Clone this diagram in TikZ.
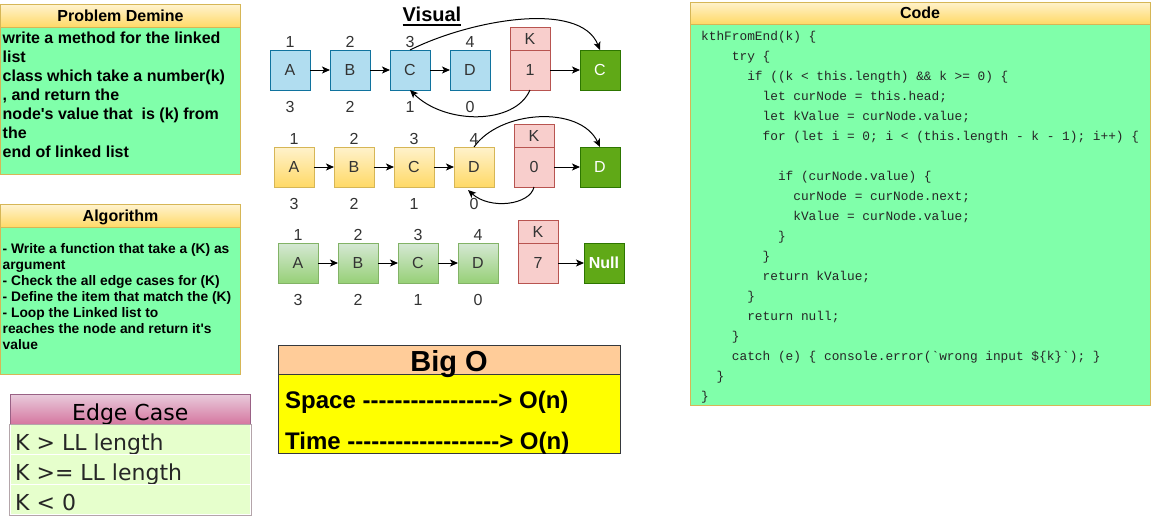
\documentclass[tikz,border=0pt]{standalone}
\usepackage{fontspec}
\setmainfont{Liberation Sans}[Ligatures=TeXOff]
\newfontfamily\codefont{Liberation Mono}[Ligatures=TeXOff]
\newfontfamily\edgefont{DejaVu Sans}[Ligatures=TeXOff]
\usetikzlibrary{arrows.meta,positioning}
\definecolor{hdrtop}{HTML}{FFF2CC}
\definecolor{hdrbot}{HTML}{FFD966}
\definecolor{hdrline}{HTML}{D6B656}
\definecolor{panelgreen}{HTML}{80FFAA}
\definecolor{bluefill}{HTML}{B1DDF0}
\definecolor{blueline}{HTML}{10739E}
\definecolor{grntop}{HTML}{D5E8D4}
\definecolor{grnbot}{HTML}{97D077}
\definecolor{grnline}{HTML}{82B366}
\definecolor{kfill}{HTML}{F8CECC}
\definecolor{kline}{HTML}{B85450}
\definecolor{foundfill}{HTML}{60A917}
\definecolor{foundline}{HTML}{2D7600}
\definecolor{edgetop}{HTML}{E8CADB}
\definecolor{edgebot}{HTML}{D5769F}
\definecolor{edgeline}{HTML}{996185}
\definecolor{edgerow}{HTML}{E6FFCC}
\definecolor{edgeframe}{HTML}{B4A5AA}
\definecolor{bigohead}{HTML}{FFCC99}
\definecolor{bigobody}{HTML}{FFFF00}
\definecolor{bigoline}{HTML}{36393D}
\tikzset{
  % panels with a shaded title bar
  hdr/.style={draw=hdrline, top color=hdrtop, bottom color=hdrbot, line width=1pt,
              inner sep=0pt, text height=11.5pt, text depth=0pt,
              font=\bfseries\fontsize{16}{19}\selectfont},
  panel/.style={draw=hdrline, fill=panelgreen, line width=1pt, inner sep=0pt},
  ptext/.style={anchor=base west, inner sep=0pt, font=\bfseries\fontsize{16}{19}\selectfont},
  atext/.style={ptext, font=\bfseries\fontsize{13.8}{16}\selectfont},
  ctext/.style={anchor=base west, inner sep=0pt, font=\codefont\fontsize{12.8}{20}\selectfont, text=black!85},
  % linked list cells
  llbox/.style={draw, line width=1pt, minimum size=40pt, inner sep=0pt, outer sep=0pt,
                font=\fontsize{16}{19}\selectfont, text=black!80},
  bluebox/.style={llbox, draw=blueline, fill=bluefill},
  yelbox/.style={llbox, draw=hdrline, top color=hdrtop, bottom color=hdrbot},
  grnbox/.style={llbox, draw=grnline, top color=grntop, bottom color=grnbot},
  kval/.style={llbox, draw=kline, fill=kfill},
  khead/.style={kval, minimum height=23pt},
  found/.style={llbox, draw=foundline, fill=foundfill, text=white},
  idx/.style={inner sep=0pt, font=\fontsize{16}{19}\selectfont, text=black!80},
  link/.style={-{Stealth[length=8pt,width=7pt,inset=2pt]}, line width=1pt},
  % edge cases
  edgehead/.style={draw=edgeline, top color=edgetop, bottom color=edgebot, line width=1pt,
                   inner sep=0pt, minimum width=240.5pt, minimum height=30pt,
                   text height=22pt, text depth=0pt, font=\edgefont\fontsize{22}{27}\selectfont},
  edgecell/.style={draw=white, fill=edgerow, line width=1pt, minimum width=240.5pt, minimum height=30pt},
  etext/.style={anchor=base west, inner sep=0pt, font=\edgefont\fontsize{22}{27}\selectfont, text=black!85},
  % big O
  otext/.style={anchor=base west, inner sep=0pt, font=\bfseries\fontsize{24}{28}\selectfont}
}

\begin{document}
\begin{tikzpicture}[x=1pt, y=-1pt]
\useasboundingbox (0,0) rectangle (1151,515);

% ============== Problem ==============
\node[panel, minimum width=240pt, minimum height=146.7pt] (probbody) at (120.5,100.65) {};
\node[hdr, minimum width=240pt, minimum height=22.6pt] (probhead) at (120.5,16) {Problem Demine};
\foreach \txt [count=\i from 0] in {{write a method for the linked}, {list},
    {class which take a number(k)}, {, and return the}, {node's value that \ is (k) from},
    {the}, {end of linked list}}
  \node[ptext] (prob\i) at (2.5,{43.5+19*\i}) {\txt};

% ============== Algorithm ==============
\node[panel, minimum width=240pt, minimum height=146.7pt] (algbody) at (120.5,300.65) {};
\node[hdr, minimum width=240pt, minimum height=22.6pt] (alghead) at (120.5,216) {Algorithm};
\foreach \txt [count=\i from 0] in {{- Write a function that take a (K) as}, {argument},
    {- Check the all edge cases for (K)}, {- Define the item that match the (K)},
    {- Loop the Linked list to}, {reaches the node and return it's}, {value}}
  \node[atext] (alg\i) at (2.5,{253.3+16*\i}) {\txt};

% ============== Edge Case ==============
\node[edgehead] (edgehead) at (130.25,409.5) {Edge Case};
\foreach \txt [count=\i] in {{K > LL length}, {K >= LL length}, {K < 0}} {
  \node[edgecell] (edge\i) at (130.25,{409.5+30*\i}) {};
  \node[etext] (edgetxt\i) at (15,{420.5+30*\i}) {\txt};
}
\draw[edgeframe, line width=1pt] (edge1.north west) rectangle (edge3.south east);

% ============== Visual ==============
\node[anchor=base, inner sep=0pt, font=\bfseries\fontsize{20}{24}\selectfont] (vistitle) at (432,21.7) {Visual};
\draw[line width=1.6pt] ([yshift=-3.5pt]vistitle.base west) -- ([yshift=-3.5pt]vistitle.base east);

% row 1: k = 1
\foreach \n/\t/\b [count=\i from 0] in {A/1/3, B/2/2, C/3/1, D/4/0} {
  \node[bluebox] (ra\n) at ({290+60*\i},70) {\n};
  \node[idx, above=2.5pt of ra\n] (ra\n-up) {\t};
  \node[idx, below=11pt of ra\n] (ra\n-dn) {\b};
}
\node[kval, right=20pt of raD] (raK) {1};
\node[khead, above=0pt of raK] (raKh) {K};
\node[found, right=30pt of raK] (raRes) {C};
\foreach \s/\e in {A/B, B/C, C/D, K/Res}
  \draw[link] (ra\s) -- (ra\e);
\draw[link] (raC.north) .. controls (470,20) and (580,0) .. (raRes.north);
\draw[link] (raK.south) .. controls (515,125) and (445,125) .. (raC.south);

% row 2: k = 0
\foreach \n/\t/\b [count=\i from 0] in {A/1/3, B/2/2, C/3/1, D/4/0} {
  \node[yelbox] (rb\n) at ({294+60*\i},167) {\n};
  \node[idx, above=2.5pt of rb\n] (rb\n-up) {\t};
  \node[idx, below=11pt of rb\n] (rb\n-dn) {\b};
}
\node[kval, right=20pt of rbD] (rbK) {0};
\node[khead, above=0pt of rbK] (rbKh) {K};
\node[found, right=26pt of rbK] (rbRes) {D};
\foreach \s/\e in {A/B, B/C, C/D, K/Res}
  \draw[link] (rb\s) -- (rb\e);
\draw[link] (rbD.north) .. controls (500,110) and (580,105) .. (rbRes.north);
\draw[link] (rbK.south) .. controls (530,205) and (490,210) .. ([xshift=-6pt,yshift=-3pt]rbD.south);

% row 3: k = 7
\foreach \n/\t/\b [count=\i from 0] in {A/1/3, B/2/2, C/3/1, D/4/0} {
  \node[grnbox] (rc\n) at ({298+60*\i},263) {\n};
  \node[idx, above=2.5pt of rc\n] (rc\n-up) {\t};
  \node[idx, below=11pt of rc\n] (rc\n-dn) {\b};
}
\node[kval, right=20pt of rcD] (rcK) {7};
\node[khead, above=0pt of rcK] (rcKh) {K};
\node[found, right=26pt of rcK, font=\bfseries\fontsize{16}{19}\selectfont] (rcRes) {Null};
\foreach \s/\e in {A/B, B/C, C/D, K/Res}
  \draw[link] (rc\s) -- (rc\e);

% ============== Big O ==============
\node[draw=bigoline, fill=bigobody, line width=1pt, minimum width=342pt, minimum height=79.5pt] (bigobody) at (449,413.75) {};
\node[draw=bigoline, fill=bigohead, line width=1pt, inner sep=0pt, minimum width=342pt, minimum height=29pt,
      text height=24pt, text depth=0pt, font=\bfseries\fontsize{29}{34}\selectfont] (bigohead) at (449,359.5) {Big O};
\node[otext] (space) at (285,408.3) {Space -----------------> O(n)};
\node[otext] (time) at (285,449.3) {Time -------------------> O(n)};

% ============== Code ==============
\node[panel, minimum width=460pt, minimum height=381pt] (codebody) at (920,214.5) {};
\node[hdr, minimum width=460pt, minimum height=22pt] (codehead) at (920,13) {Code};
\foreach \r/\ind/\txt in {
    1/0/{kthFromEnd(k) \{},
    2/4/{try \{},
    3/6/{if ((k < this.length) \&\& k >= 0) \{},
    4/8/{let curNode = this.head;},
    5/8/{let kValue = curNode.value;},
    6/8/{for (let i = 0; i < (this.length - k - 1); i++) \{},
    8/10/{if (curNode.value) \{},
    9/12/{curNode = curNode.next;},
    10/12/{kValue = curNode.value;},
    11/10/{\}},
    12/8/{\}},
    13/8/{return kValue;},
    14/6/{\}},
    15/6/{return null;},
    16/4/{\}},
    17/4/{catch (e) \{ console.error(\textasciigrave wrong input \$\{k\}\textasciigrave); \}},
    18/2/{\}},
    19/0/{\}}}
  \node[ctext] (code\r) at ({701+7.68*\ind},{20+20*\r}) {\txt};

\end{tikzpicture}
\end{document}
